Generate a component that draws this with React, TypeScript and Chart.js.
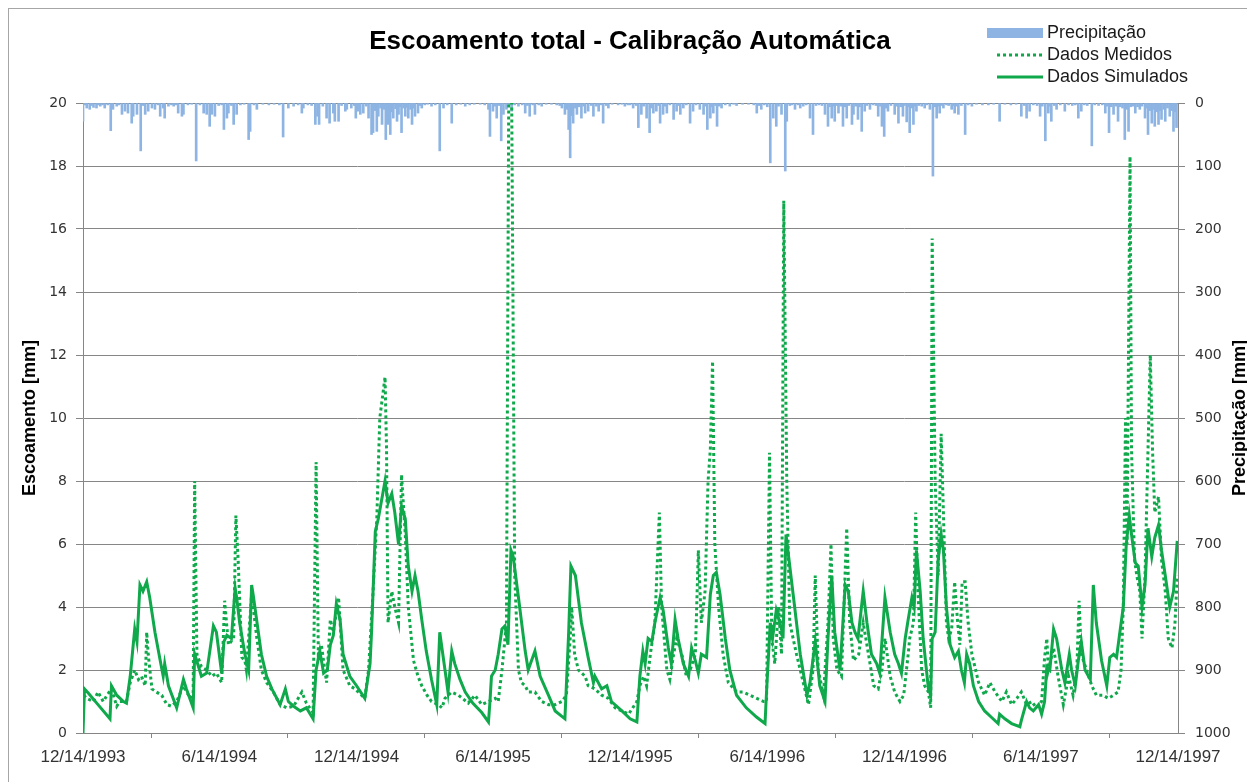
import React, { useEffect, useRef } from 'react';
import { Chart, registerables } from 'chart.js';

Chart.register(...registerables);

const TITULO = 'Escoamento total - Calibração Automática';
const TITULO_ESQ = 'Escoamento [mm]';
const TITULO_DIR = 'Precipitação [mm]';
const LEGENDA = ['Precipitação', 'Dados Medidos', 'Dados Simulados'];

// Eixo x: dias contados a partir de 12/14/1993
const ROTULOS_DATA = ['12/14/1993', '6/14/1994', '12/14/1994', '6/14/1995', '12/14/1995', '6/14/1996', '12/14/1996', '6/14/1997', '12/14/1997'];
const DIAS_ROTULOS = [0, 182, 365, 547, 730, 913, 1096, 1278, 1461];

// Escoamento simulado [mm]
const simDias = [0, 2, 7, 20, 36, 38, 45, 54, 58, 63, 69, 72, 76, 80, 85, 89, 96, 103, 107, 109, 114, 125, 134, 138, 147, 149, 158, 165, 174, 178, 185, 188, 192, 198, 203, 205, 209, 216, 221, 225, 227, 238, 245, 252, 263, 270, 274, 281, 290, 298, 307, 311, 316, 321, 326, 330, 334, 338, 343, 347, 356, 365, 376, 383, 385, 390, 394, 403, 407, 412, 416, 421, 425, 430, 434, 439, 443, 447, 452, 458, 465, 472, 476, 483, 487, 492, 496, 503, 510, 520, 532, 541, 543, 545, 550, 554, 559, 563, 567, 571, 574, 581, 590, 594, 603, 610, 621, 630, 643, 648, 651, 657, 665, 674, 681, 683, 692, 699, 705, 719, 730, 739, 743, 747, 750, 754, 759, 763, 770, 774, 781, 785, 790, 794, 801, 808, 812, 817, 821, 825, 832, 837, 841, 845, 850, 857, 863, 872, 885, 899, 910, 912, 917, 920, 925, 932, 934, 938, 942, 948, 957, 966, 970, 977, 983, 990, 994, 999, 1003, 1010, 1017, 1021, 1026, 1030, 1034, 1041, 1046, 1052, 1059, 1063, 1070, 1077, 1083, 1088, 1092, 1097, 1101, 1106, 1109, 1112, 1117, 1121, 1128, 1131, 1133, 1137, 1141, 1145, 1148, 1152, 1157, 1163, 1168, 1172, 1176, 1179, 1183, 1188, 1195, 1203, 1212, 1221, 1223, 1230, 1239, 1250, 1252, 1259, 1263, 1268, 1275, 1279, 1283, 1286, 1290, 1295, 1299, 1306, 1310, 1316, 1319, 1324, 1328, 1332, 1337, 1344, 1348, 1352, 1359, 1366, 1370, 1375, 1379, 1384, 1388, 1392, 1396, 1399, 1404, 1408, 1413, 1417, 1421, 1426, 1430, 1435, 1439, 1444, 1450, 1455, 1460];
const simValores = [0, 1.4, 1.27, 0.9, 0.45, 1.5, 1.2, 1.0, 0.95, 1.8, 3.3, 2.9, 4.7, 4.5, 4.8, 4.3, 3.2, 2.3, 1.8, 2.2, 1.5, 0.8, 1.7, 1.4, 0.8, 2.5, 1.8, 1.9, 3.4, 3.2, 1.9, 2.9, 3.1, 3.0, 4.6, 4.3, 3.5, 2.5, 2.0, 4.7, 4.4, 2.5, 1.8, 1.4, 0.9, 1.4, 1.0, 0.85, 0.7, 0.8, 0.45, 2.0, 2.6, 1.9, 2.0, 2.8, 3.1, 4.1, 3.6, 2.5, 1.8, 1.5, 1.1, 2.2, 3.2, 6.4, 6.8, 8.0, 7.3, 7.6, 7.0, 6.0, 7.2, 6.8, 5.3, 4.5, 5.0, 4.5, 3.6, 2.6, 1.7, 0.9, 3.2, 2.0, 1.3, 2.6, 2.2, 1.7, 1.3, 0.95, 0.65, 0.35, 1.0, 1.8, 2.0, 2.5, 3.3, 3.4, 2.8, 5.8, 5.6, 4.3, 2.6, 2.0, 2.6, 1.8, 1.2, 0.7, 0.45, 3.2, 5.3, 5.0, 3.5, 2.4, 1.6, 1.8, 1.4, 1.5, 1.0, 0.7, 0.45, 0.35, 1.8, 2.6, 2.2, 3.0, 2.9, 3.5, 4.3, 3.9, 2.7, 2.2, 3.6, 3.0, 2.2, 1.8, 2.7, 2.3, 1.9, 2.5, 2.4, 4.4, 5.0, 5.1, 4.4, 3.0, 2.0, 1.2, 0.8, 0.5, 0.3, 1.3, 3.5, 3.0, 3.9, 3.3, 3.0, 6.3, 5.5, 4.3, 2.5, 1.2, 1.6, 2.9, 1.5, 1.0, 3.0, 5.0, 3.2, 2.0, 4.7, 4.5, 3.5, 3.2, 3.0, 4.5, 3.5, 2.5, 2.2, 1.9, 4.3, 3.2, 2.5, 2.2, 1.9, 3.0, 3.6, 4.3, 4.0, 5.8, 4.5, 3.0, 1.4, 1.2, 3.0, 3.2, 5.5, 6.3, 5.8, 4.0, 2.8, 2.4, 2.6, 2.0, 1.6, 2.5, 2.2, 1.5, 1.0, 0.7, 0.5, 0.3, 0.6, 0.45, 0.3, 0.2, 0.4, 1.0, 0.8, 0.7, 0.9, 0.6, 1.0, 2.1, 2.0, 3.3, 3.0, 2.0, 1.6, 2.5, 2.0, 1.5, 2.3, 2.9, 2.0, 1.7, 4.7, 3.5, 2.3, 1.5, 2.4, 2.5, 2.4, 3.3, 4.0, 6.0, 6.9, 6.3, 5.4, 5.3, 4.0, 4.7, 6.5, 5.6, 6.2, 6.6, 5.8, 5.0, 4.0, 4.5, 6.1];

// Escoamento medido [mm]
const medDias = [1, 5, 14, 20, 27, 32, 38, 45, 49, 58, 63, 69, 74, 78, 83, 85, 87, 92, 98, 105, 112, 118, 125, 134, 143, 147, 149, 152, 158, 165, 172, 178, 185, 189, 194, 201, 204, 207, 212, 216, 218, 225, 232, 238, 245, 254, 263, 272, 281, 292, 298, 307, 311, 314, 318, 325, 330, 334, 341, 347, 356, 363, 376, 381, 387, 392, 396, 403, 405, 407, 412, 416, 421, 425, 430, 434, 441, 447, 452, 459, 465, 474, 479, 483, 492, 501, 514, 523, 532, 541, 550, 554, 559, 565, 568, 572, 576, 581, 585, 590, 594, 603, 612, 621, 630, 639, 645, 650, 652, 656, 661, 670, 674, 683, 692, 701, 710, 719, 728, 739, 743, 748, 752, 757, 763, 769, 772, 779, 783, 788, 792, 799, 805, 810, 817, 821, 825, 830, 834, 837, 840, 843, 848, 854, 861, 872, 881, 890, 899, 908, 912, 916, 919, 923, 928, 932, 935, 939, 943, 952, 961, 968, 974, 977, 981, 988, 994, 998, 1001, 1006, 1012, 1019, 1023, 1028, 1035, 1041, 1048, 1055, 1061, 1066, 1070, 1077, 1083, 1090, 1095, 1101, 1103, 1108, 1111, 1114, 1119, 1123, 1128, 1131, 1133, 1137, 1141, 1145, 1148, 1152, 1155, 1159, 1163, 1167, 1170, 1173, 1177, 1181, 1186, 1195, 1203, 1210, 1217, 1226, 1232, 1239, 1246, 1252, 1259, 1266, 1272, 1279, 1283, 1286, 1288, 1295, 1301, 1308, 1315, 1321, 1326, 1329, 1332, 1339, 1346, 1352, 1361, 1368, 1375, 1381, 1385, 1388, 1391, 1393, 1397, 1399, 1403, 1406, 1410, 1413, 1417, 1420, 1424, 1427, 1430, 1435, 1439, 1444, 1448, 1453, 1457, 1460];
const medValores = [1.2, 1.1, 1.0, 1.3, 1.0, 1.2, 1.4, 0.85, 1.0, 1.0, 1.6, 2.0, 1.7, 1.8, 1.5, 3.2, 2.5, 1.4, 1.3, 1.2, 0.9, 0.85, 1.0, 1.5, 1.1, 1.3, 8.0, 2.5, 2.1, 2.0, 1.8, 1.9, 1.6, 4.2, 2.8, 3.0, 6.9, 5.5, 2.4, 2.3, 2.0, 4.4, 3.0, 2.0, 1.6, 1.3, 0.9, 0.8, 0.85, 1.3, 0.95, 0.65, 8.6, 2.5, 2.8, 1.6, 3.6, 3.2, 4.3, 2.0, 1.5, 1.4, 1.1, 2.0, 4.5, 6.8, 10.0, 11.3, 9.0, 3.5, 4.5, 4.0, 3.5, 8.2, 6.3, 4.0, 2.3, 1.8, 1.5, 1.2, 1.0, 0.9, 0.8, 1.1, 1.3, 1.2, 0.95, 1.2, 0.9, 1.0, 1.1, 1.0, 2.0, 3.5, 20, 20, 5.0, 2.0, 1.6, 1.5, 1.3, 1.3, 1.0, 0.9, 0.9, 1.0, 1.2, 3.0, 4.0, 2.5, 2.0, 1.8, 1.5, 1.4, 1.2, 1.1, 0.8, 0.7, 0.6, 1.0, 1.5, 1.8, 1.5, 2.5, 3.5, 7.0, 4.0, 2.0, 1.7, 2.5, 3.0, 2.5, 1.8, 2.0, 2.5, 5.8, 3.5, 4.5, 8.0, 9.0, 11.8, 6.0, 4.0, 2.5, 1.6, 1.3, 1.3, 1.2, 1.1, 1.0, 1.0, 8.9, 3.0, 2.2, 4.0, 2.5, 16.9, 8.0, 3.5, 2.5, 1.6, 0.9, 2.0, 5.0, 2.0, 1.2, 3.5, 6.0, 3.0, 2.0, 1.8, 6.5, 3.5, 2.3, 2.5, 3.5, 2.5, 1.5, 1.4, 2.0, 3.0, 1.8, 1.3, 1.0, 1.2, 2.5, 3.0, 3.5, 7.0, 4.5, 2.0, 1.5, 1.3, 0.8, 15.7, 8.0, 5.0, 9.5, 7.0, 3.5, 3.0, 3.3, 4.8, 3.5, 2.8, 4.8, 4.8, 3.5, 2.5, 1.6, 1.2, 1.6, 1.3, 1.0, 1.3, 0.9, 1.1, 1.3, 0.9, 1.0, 0.8, 1.0, 2.4, 3.0, 2.0, 2.7, 1.8, 0.9, 1.8, 1.2, 2.0, 4.2, 2.5, 2.0, 1.5, 1.2, 1.2, 1.1, 1.2, 1.3, 2.0, 4.0, 10.0, 6.0, 18.3, 9.0, 5.5, 5.0, 4.5, 3.0, 5.0, 8.0, 12.0, 9.0, 7.0, 7.5, 5.5, 4.5, 3.0, 2.7, 3.5, 5.0];

// Precipitação diária [mm]
const precDias = [0, 3, 5, 9, 11, 14, 18, 20, 23, 26, 29, 33, 37, 40, 45, 48, 52, 56, 60, 65, 67, 72, 77, 80, 83, 87, 92, 96, 100, 103, 107, 109, 114, 118, 121, 124, 127, 132, 134, 140, 145, 151, 156, 161, 165, 169, 172, 176, 181, 185, 188, 192, 194, 198, 201, 205, 210, 215, 221, 223, 228, 232, 240, 248, 255, 262, 267, 274, 281, 287, 292, 294, 300, 305, 310, 313, 315, 320, 325, 329, 334, 336, 341, 345, 350, 352, 358, 362, 364, 367, 370, 374, 378, 381, 385, 387, 390, 392, 394, 397, 399, 402, 404, 407, 410, 412, 414, 417, 419, 421, 423, 425, 428, 430, 432, 434, 437, 439, 441, 443, 447, 450, 452, 456, 460, 465, 470, 476, 481, 486, 492, 498, 504, 510, 516, 522, 530, 536, 541, 543, 547, 550, 552, 555, 558, 561, 565, 569, 572, 576, 581, 586, 590, 593, 596, 600, 603, 608, 612, 618, 625, 632, 636, 639, 643, 646, 648, 650, 652, 654, 657, 659, 662, 665, 668, 670, 674, 678, 681, 685, 688, 691, 694, 698, 701, 706, 714, 719, 723, 727, 730, 734, 738, 741, 745, 748, 752, 756, 758, 761, 765, 768, 770, 774, 777, 779, 783, 788, 792, 795, 797, 801, 805, 810, 814, 818, 823, 828, 831, 833, 837, 839, 841, 844, 846, 849, 852, 857, 863, 868, 872, 880, 888, 895, 899, 902, 905, 909, 913, 917, 921, 925, 928, 932, 937, 939, 943, 946, 950, 954, 957, 961, 965, 970, 974, 978, 982, 986, 990, 994, 996, 999, 1001, 1003, 1006, 1008, 1011, 1014, 1017, 1019, 1022, 1026, 1028, 1031, 1034, 1036, 1039, 1043, 1046, 1050, 1054, 1058, 1061, 1064, 1066, 1069, 1071, 1074, 1078, 1083, 1086, 1088, 1091, 1094, 1096, 1099, 1101, 1103, 1106, 1108, 1110, 1112, 1115, 1119, 1123, 1126, 1130, 1134, 1137, 1139, 1141, 1143, 1146, 1148, 1152, 1155, 1159, 1161, 1163, 1166, 1168, 1172, 1177, 1181, 1186, 1192, 1200, 1208, 1215, 1223, 1230, 1238, 1245, 1252, 1256, 1259, 1263, 1268, 1273, 1277, 1280, 1284, 1288, 1290, 1292, 1296, 1299, 1304, 1310, 1315, 1320, 1324, 1328, 1332, 1336, 1340, 1346, 1350, 1355, 1360, 1364, 1366, 1369, 1372, 1375, 1378, 1381, 1384, 1387, 1390, 1393, 1395, 1398, 1401, 1404, 1407, 1410, 1413, 1417, 1419, 1421, 1424, 1426, 1428, 1430, 1433, 1435, 1437, 1439, 1442, 1444, 1447, 1450, 1453, 1455, 1457, 1459];
const precValores = [29, 3, 8, 10, 4, 7, 8, 3, 5, 3, 8, 3, 44, 10, 5, 3, 18, 13, 16, 32, 21, 18, 76, 4, 18, 13, 8, 10, 3, 21, 8, 24, 5, 3, 5, 3, 16, 21, 18, 3, 2, 92, 3, 16, 18, 37, 18, 21, 4, 3, 42, 24, 16, 4, 34, 18, 3, 2, 58, 45, 3, 10, 2, 3, 2, 3, 54, 8, 5, 3, 16, 8, 3, 4, 34, 21, 34, 5, 24, 32, 16, 29, 29, 4, 13, 10, 8, 4, 24, 13, 18, 16, 5, 24, 50, 47, 12, 45, 21, 8, 34, 10, 58, 34, 50, 14, 24, 9, 29, 18, 6, 47, 8, 21, 7, 24, 10, 34, 8, 21, 16, 4, 8, 3, 2, 5, 3, 76, 8, 3, 32, 3, 2, 5, 3, 2, 2, 3, 10, 53, 13, 5, 24, 4, 60, 18, 10, 3, 13, 3, 5, 3, 16, 4, 21, 3, 18, 3, 5, 2, 2, 3, 4, 8, 18, 10, 42, 87, 20, 32, 8, 18, 6, 24, 5, 16, 13, 4, 21, 5, 13, 3, 32, 4, 8, 2, 3, 2, 5, 3, 3, 8, 4, 39, 18, 5, 24, 47, 8, 16, 13, 4, 32, 18, 5, 16, 3, 26, 13, 4, 18, 8, 3, 32, 13, 3, 10, 18, 5, 42, 24, 6, 16, 4, 37, 5, 8, 3, 5, 2, 4, 2, 2, 3, 16, 4, 10, 3, 6, 95, 24, 37, 5, 18, 108, 29, 4, 3, 10, 3, 8, 5, 3, 24, 50, 4, 3, 4, 18, 37, 6, 24, 5, 29, 4, 16, 5, 37, 6, 24, 4, 34, 18, 5, 26, 6, 45, 13, 4, 10, 3, 4, 21, 5, 37, 53, 8, 13, 4, 18, 5, 32, 6, 21, 4, 30, 6, 47, 8, 34, 5, 13, 4, 5, 8, 3, 10, 116, 6, 24, 5, 16, 4, 8, 3, 4, 10, 4, 16, 5, 18, 4, 50, 3, 5, 2, 3, 3, 2, 29, 2, 3, 2, 21, 4, 24, 13, 3, 4, 21, 5, 60, 16, 5, 29, 4, 10, 3, 13, 3, 4, 3, 24, 13, 3, 4, 68, 3, 4, 3, 16, 5, 47, 6, 18, 5, 29, 6, 8, 58, 10, 45, 6, 5, 16, 6, 10, 5, 24, 8, 50, 12, 32, 10, 37, 14, 34, 12, 26, 10, 29, 8, 21, 12, 45, 14, 39];

const VERDE = '#0FA84B';
const AZUL = '#8DB4E2';
const CINZA = '#868686';
const FONTE_TEXTO = '"Liberation Sans", Arial, sans-serif';
const FONTE_TICKS = '"DejaVu Sans", sans-serif';

const pares = (dias: number[], valores: number[]) => dias.map((d, i) => ({ x: d, y: valores[i] }));

// Título, títulos dos eixos e legenda desenhados sobre o canvas
const textosPlugin = {
  id: 'textos',
  afterDraw(chart: any) {
    const ctx = chart.ctx as CanvasRenderingContext2D;
    const area = chart.chartArea;
    const meio = (area.top + area.bottom) / 2;
    ctx.save();
    ctx.fillStyle = '#000';
    ctx.textBaseline = 'middle';

    ctx.font = `bold 26px ${FONTE_TEXTO}`;
    ctx.textAlign = 'center';
    ctx.fillText(TITULO, 621, 33);

    ctx.font = `bold 18px ${FONTE_TEXTO}`;
    ctx.save();
    ctx.translate(21, meio);
    ctx.rotate(-Math.PI / 2);
    ctx.fillText(TITULO_ESQ, 0, 0);
    ctx.restore();
    ctx.save();
    ctx.translate(1231, meio);
    ctx.rotate(-Math.PI / 2);
    ctx.fillText(TITULO_DIR, 0, 0);
    ctx.restore();

    // Legenda
    const xAmostra = 978;
    const xTexto = 1038;
    const linhas = [24, 46, 68];
    ctx.font = `18px ${FONTE_TEXTO}`;
    ctx.textAlign = 'left';
    ctx.fillStyle = AZUL;
    ctx.fillRect(xAmostra, linhas[0] - 5, 56, 10);
    ctx.strokeStyle = VERDE;
    ctx.lineWidth = 3;
    ctx.setLineDash([3, 3]);
    ctx.beginPath();
    ctx.moveTo(xAmostra + 10, linhas[1]);
    ctx.lineTo(xAmostra + 56, linhas[1]);
    ctx.stroke();
    ctx.setLineDash([]);
    ctx.beginPath();
    ctx.moveTo(xAmostra + 10, linhas[2]);
    ctx.lineTo(xAmostra + 56, linhas[2]);
    ctx.stroke();
    ctx.fillStyle = '#1a1a1a';
    LEGENDA.forEach((t, i) => ctx.fillText(t, xTexto, linhas[i]));
    ctx.restore();
  },
};

export default function App() {
  const ref = useRef<HTMLCanvasElement | null>(null);

  useEffect(() => {
    if (!ref.current) return;
    const chart = new Chart(ref.current, {
      type: 'line',
      data: {
        datasets: [
          {
            type: 'bar',
            label: LEGENDA[0],
            data: pares(precDias, precValores),
            yAxisID: 'y2',
            backgroundColor: AZUL,
            borderWidth: 0,
            barThickness: 2,
            order: 3,
          } as any,
          {
            type: 'line',
            label: LEGENDA[1],
            data: pares(medDias, medValores),
            yAxisID: 'y',
            borderColor: VERDE,
            borderWidth: 3,
            borderDash: [3, 3],
            pointRadius: 0,
            tension: 0,
            order: 2,
          },
          {
            type: 'line',
            label: LEGENDA[2],
            data: pares(simDias, simValores),
            yAxisID: 'y',
            borderColor: VERDE,
            borderWidth: 3,
            pointRadius: 0,
            tension: 0,
            order: 1,
          },
        ],
      },
      options: {
        animation: false,
        responsive: false,
        maintainAspectRatio: false,
        layout: { padding: { top: 94, left: 0, right: 0, bottom: 0 } },
        plugins: {
          legend: { display: false },
          tooltip: { enabled: false },
          title: { display: false },
        },
        scales: {
          x: {
            type: 'linear',
            min: 0,
            max: 1461,
            offset: false,
            afterBuildTicks: (s: any) => {
              s.ticks = DIAS_ROTULOS.map((v) => ({ value: v }));
            },
            afterFit: (s: any) => {
              s.height = 49;
            },
            grid: { drawOnChartArea: false, drawTicks: true, tickLength: 5, color: CINZA },
            border: { display: true, color: CINZA, width: 1 },
            ticks: {
              autoSkip: false,
              maxRotation: 0,
              padding: 9,
              color: '#333',
              font: { family: FONTE_TEXTO, size: 17 },
              callback: (v: any) => {
                const i = DIAS_ROTULOS.indexOf(Number(v));
                return i >= 0 ? ROTULOS_DATA[i] : '';
              },
            },
          },
          y: {
            position: 'left',
            min: 0,
            max: 20,
            afterFit: (s: any) => {
              s.width = 74;
            },
            grid: { color: CINZA, tickLength: 7 },
            border: { display: true, color: CINZA },
            ticks: { stepSize: 2, padding: 9, color: '#333', font: { family: FONTE_TICKS, size: 14 } },
          },
          y2: {
            position: 'right',
            reverse: true,
            min: 0,
            max: 1000,
            afterFit: (s: any) => {
              s.width = 77;
            },
            grid: { drawOnChartArea: false, color: CINZA, tickLength: 7 },
            border: { display: true, color: CINZA },
            ticks: {
              stepSize: 100,
              padding: 10,
              color: '#333',
              font: { family: FONTE_TICKS, size: 14 },
              callback: (v: any) => String(v),
            },
          },
        },
      } as any,
      plugins: [textosPlugin],
    });
    return () => chart.destroy();
  }, []);

  return (
    <div
      style={{
        position: 'relative',
        width: 1247,
        height: 774,
        boxSizing: 'border-box',
        borderTop: '1px solid #a6a6a6',
        borderLeft: '1px solid #a6a6a6',
        background: '#fff',
      }}
    >
      <canvas ref={ref} width={1246} height={773} style={{ display: 'block' }} />
    </div>
  );
}
